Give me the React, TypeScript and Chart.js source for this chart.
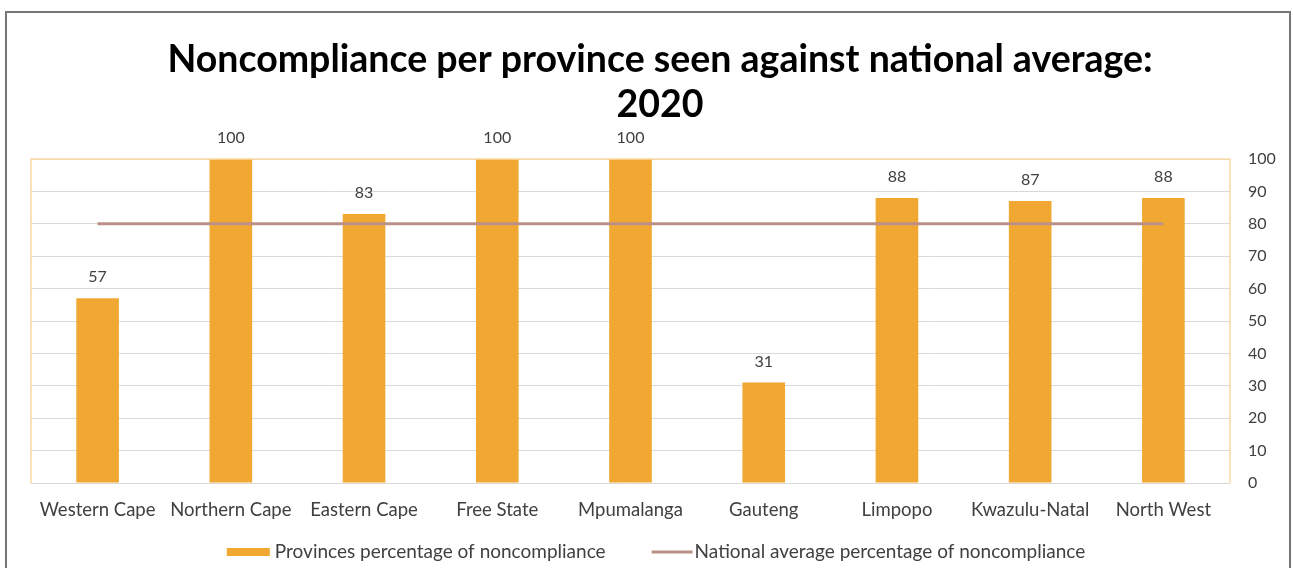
import React, { useEffect, useRef } from "react";
import { Chart, registerables } from "chart.js";

Chart.register(...registerables);

const titleLines = ["Noncompliance per province seen against national average:", "2020"];
const provinces = [
  "Western Cape",
  "Northern Cape",
  "Eastern Cape",
  "Free State",
  "Mpumalanga",
  "Gauteng",
  "Limpopo",
  "Kwazulu-Natal",
  "North West",
];
const provinceValues = [57, 100, 83, 100, 100, 31, 88, 87, 88];
const nationalAverage = [80, 80, 80, 80, 80, 80, 80, 80, 80];
const seriesNames = ["Provinces percentage of noncompliance", "National average percentage of noncompliance"];
const yTicks = [0, 10, 20, 30, 40, 50, 60, 70, 80, 90, 100];

const BAR = "#f0a832";
const LINE = "#bb9088";
const TEXT = "#404040";
const FONT = "Lato, 'Open Sans', sans-serif";

const plotFramePlugin = {
  id: "plotFrame",
  afterDatasetsDraw(chart: any) {
    const { ctx, chartArea } = chart;
    ctx.save();
    ctx.strokeStyle = "#fbd9a3";
    ctx.lineWidth = 1.5;
    ctx.beginPath();
    ctx.moveTo(chartArea.left, chartArea.bottom);
    ctx.lineTo(chartArea.left, chartArea.top);
    ctx.lineTo(chartArea.right, chartArea.top);
    ctx.lineTo(chartArea.right, chartArea.bottom);
    ctx.stroke();
    ctx.restore();
  },
};

const dataLabelPlugin = {
  id: "dataLabels",
  afterDatasetsDraw(chart: any) {
    const { ctx } = chart;
    const meta = chart.getDatasetMeta(0);
    ctx.save();
    ctx.fillStyle = TEXT;
    ctx.font = `16px ${FONT}`;
    ctx.textAlign = "center";
    ctx.textBaseline = "middle";
    meta.data.forEach((bar: any, i: number) => {
      ctx.fillText(String(provinceValues[i]), bar.x, bar.y - 21);
    });
    ctx.restore();
  },
};

const legendPlugin = {
  id: "customLegend",
  afterDraw(chart: any) {
    const { ctx, width } = chart;
    ctx.save();
    ctx.font = `19px ${FONT}`;
    ctx.fillStyle = TEXT;
    ctx.textBaseline = "middle";
    const y = 539;
    const boxW = 43;
    const lineW = 41;
    const t1 = ctx.measureText(seriesNames[0]).width;
    const t2 = ctx.measureText(seriesNames[1]).width;
    const total = boxW + 5 + t1 + 46 + lineW + 2 + t2;
    let x = width / 2 + 8 - total / 2;
    ctx.fillStyle = BAR;
    ctx.fillRect(x, y - 4, boxW, 8);
    x += boxW + 5;
    ctx.fillStyle = TEXT;
    ctx.fillText(seriesNames[0], x, y);
    x += t1 + 46;
    ctx.strokeStyle = LINE;
    ctx.lineWidth = 3;
    ctx.beginPath();
    ctx.moveTo(x, y);
    ctx.lineTo(x + lineW, y);
    ctx.stroke();
    x += lineW + 2;
    ctx.fillText(seriesNames[1], x, y);
    ctx.restore();
  },
};

export default function App() {
  const ref = useRef<HTMLCanvasElement>(null);

  useEffect(() => {
    if (!ref.current) return;
    const chart = new Chart(ref.current, {
      type: "bar",
      data: {
        labels: provinces,
        datasets: [
          {
            type: "bar",
            label: seriesNames[0],
            data: provinceValues,
            backgroundColor: BAR,
            barPercentage: 0.32,
            categoryPercentage: 1,
            yAxisID: "y",
            order: 1,
          },
          {
            type: "line",
            label: seriesNames[1],
            data: nationalAverage,
            borderColor: LINE,
            backgroundColor: LINE,
            borderWidth: 3,
            pointRadius: 0,
            yAxisID: "y",
            order: 0,
          } as any,
        ],
      },
      options: {
        responsive: false,
        animation: false,
        layout: { padding: { left: 24, right: 0, bottom: 45, top: 0 } },
        plugins: {
          legend: { display: false },
          tooltip: { enabled: false },
          title: {
            display: true,
            text: titleLines,
            color: "#000000",
            font: { family: FONT, size: 37.5, weight: "bold", lineHeight: 1.2 },
            padding: { top: 24.5, bottom: 31.5 },
          },
        },
        scales: {
          x: {
            grid: { display: false, drawTicks: false },
            border: { display: false },
            ticks: { color: TEXT, font: { family: FONT, size: 18.5 }, padding: 16, maxRotation: 0, autoSkip: false },
            afterFit: (axis: any) => {
              axis.height = 40;
            },
          },
          y: {
            position: "right",
            min: 0,
            max: 100,
            afterBuildTicks: (axis: any) => {
              axis.ticks = yTicks.map((v) => ({ value: v }));
            },
            afterFit: (axis: any) => {
              axis.width = 59;
            },
            grid: { color: "#d9d9d9", lineWidth: 1, drawTicks: false },
            border: { display: false },
            ticks: { color: TEXT, font: { family: FONT, size: 16 }, padding: 18 },
          },
        },
      },
      plugins: [plotFramePlugin, dataLabelPlugin, legendPlugin],
    });
    return () => chart.destroy();
  }, []);

  return (
    <div
      style={{
        position: "fixed",
        left: 5,
        top: 11,
        width: 1286,
        height: 560,
        boxSizing: "border-box",
        borderLeft: "2px solid #767676",
        borderTop: "2px solid #767676",
        borderRight: "2px solid #767676",
        background: "#ffffff",
      }}
    >
      <canvas ref={ref} width={1282} height={555} style={{ display: "block" }} />
    </div>
  );
}
